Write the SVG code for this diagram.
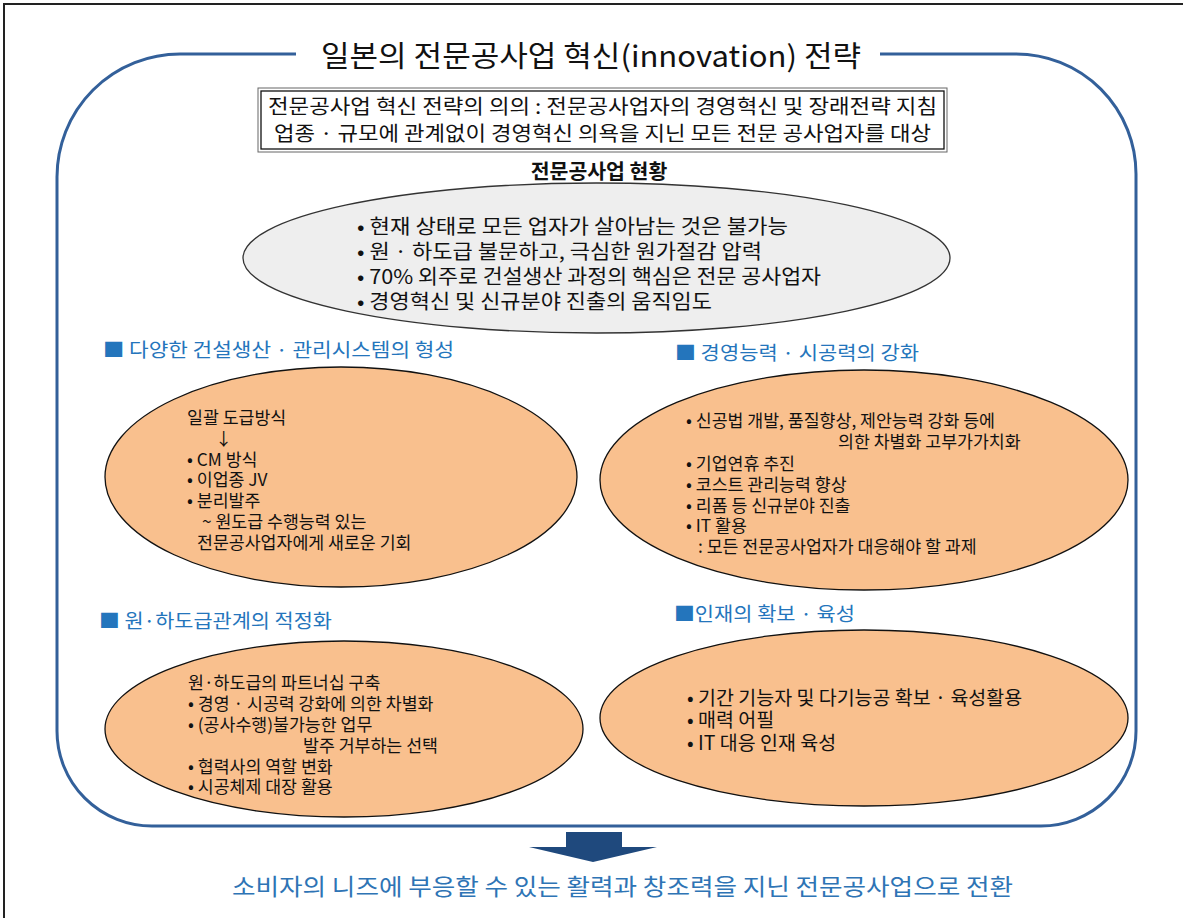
<svg xmlns="http://www.w3.org/2000/svg" width="1183" height="918" viewBox="0 0 1183 918">
<style>
.k{font-family:"Noto Sans CJK KR","Noto Sans",sans-serif;fill:#111;}
.t20{font-size:20px;}
.b{font-size:17.3px;}
.b2{font-size:19.5px;}
.h{font-size:19px;fill:#2475BC;}
.ell{fill:#F9C08E;stroke:#111;stroke-width:1.3;}
</style>
<rect x="0" y="0" width="1183" height="918" fill="#fff"/>
<g id="page-border" fill="none" stroke="#222" stroke-width="2">
<path d="M4 918 V4 H1183"/>
</g>
<g id="frame">
<path d="M180 54 H1016 A120 120 0 0 1 1136 174 V731 A95 95 0 0 1 1041 826 H152 A95 95 0 0 1 57 731 V177 A123 123 0 0 1 180 54 Z" fill="none" stroke="#33609A" stroke-width="3"/>
<rect x="296" y="36" width="584" height="38" fill="#fff"/>
<text class="k" x="321" y="67" font-size="29" textLength="540" lengthAdjust="spacingAndGlyphs">일본의 전문공사업 혁신(innovation) 전략</text>
</g>
<g id="purpose-box">
<rect x="258" y="88" width="689" height="64" fill="#fff" stroke="#666" stroke-width="1"/>
<rect x="261" y="91" width="683" height="58" fill="none" stroke="#111" stroke-width="1.3"/>
<text class="k t20" x="268" y="114" textLength="669" lengthAdjust="spacingAndGlyphs">전문공사업 혁신 전략의 의의 : 전문공사업자의 경영혁신 및 장래전략 지침</text>
<text class="k t20" x="274" y="141" textLength="657" lengthAdjust="spacingAndGlyphs">업종 · 규모에 관계없이 경영혁신 의욕을 지닌 모든 전문 공사업자를 대상</text>
</g>
<g id="status">
<text class="k" x="599" y="179" font-size="20.5" font-weight="bold" text-anchor="middle">전문공사업 현황</text>
<ellipse cx="596.5" cy="258" rx="353.5" ry="75" fill="#EEEEEE" stroke="#333" stroke-width="1.3"/>
<text class="k t20" x="357" y="234" textLength="431" lengthAdjust="spacingAndGlyphs">• 현재 상태로 모든 업자가 살아남는 것은 불가능</text>
<text class="k t20" x="357" y="259" textLength="405" lengthAdjust="spacingAndGlyphs">• 원 · 하도급 불문하고, 극심한 원가절감 압력</text>
<text class="k t20" x="357" y="284" textLength="464" lengthAdjust="spacingAndGlyphs">• 70% 외주로 건설생산 과정의 핵심은 전문 공사업자</text>
<text class="k t20" x="357" y="309" textLength="355" lengthAdjust="spacingAndGlyphs">• 경영혁신 및 신규분야 진출의 움직임도</text>
</g>
<g id="production-system">
<text class="k h" x="103" y="357" textLength="351" lengthAdjust="spacingAndGlyphs">■ 다양한 건설생산 · 관리시스템의 형성</text>
<ellipse class="ell" cx="341" cy="477" rx="236" ry="110"/>
<text class="k b" x="187" y="424">일괄 도급방식</text>
<text class="k b" x="215" y="445">↓</text>
<text class="k b" x="187" y="466">• CM 방식</text>
<text class="k b" x="187" y="486">• 이업종 JV</text>
<text class="k b" x="187" y="507">• 분리발주</text>
<text class="k b" x="202" y="528">~ 원도급 수행능력 있는</text>
<text class="k b" x="197" y="549">전문공사업자에게 새로운 기회</text>
</g>
<g id="management">
<text class="k h" x="675" y="360" textLength="244" lengthAdjust="spacingAndGlyphs">■ 경영능력 · 시공력의 강화</text>
<ellipse class="ell" cx="864" cy="480" rx="264" ry="110"/>
<text class="k b" x="686" y="427">• 신공법 개발, 품질향상, 제안능력 강화 등에</text>
<text class="k b" x="838" y="448">의한 차별화 고부가가치화</text>
<text class="k b" x="686" y="470">• 기업연휴 추진</text>
<text class="k b" x="686" y="491">• 코스트 관리능력 향상</text>
<text class="k b" x="686" y="512">• 리폼 등 신규분야 진출</text>
<text class="k b" x="686" y="532">• IT 활용</text>
<text class="k b" x="698" y="553">: 모든 전문공사업자가 대응해야 할 과제</text>
</g>
<g id="subcontract">
<text class="k h" x="99" y="628" textLength="233" lengthAdjust="spacingAndGlyphs">■ 원·하도급관계의 적정화</text>
<ellipse class="ell" cx="344" cy="729" rx="239" ry="88"/>
<text class="k b" x="188" y="689">원·하도급의 파트너십 구축</text>
<text class="k b" x="188" y="710">• 경영 · 시공력 강화에 의한 차별화</text>
<text class="k b" x="188" y="731">• (공사수행)불가능한 업무</text>
<text class="k b" x="303" y="752">발주 거부하는 선택</text>
<text class="k b" x="188" y="773">• 협력사의 역할 변화</text>
<text class="k b" x="188" y="793">• 시공체제 대장 활용</text>
</g>
<g id="talent">
<text class="k h" x="674" y="621" textLength="181" lengthAdjust="spacingAndGlyphs">■인재의 확보 · 육성</text>
<ellipse class="ell" cx="864" cy="718" rx="264" ry="88"/>
<text class="k b2" x="687" y="705">• 기간 기능자 및 다기능공 확보 · 육성활용</text>
<text class="k b2" x="687" y="727">• 매력 어필</text>
<text class="k b2" x="687" y="750">• IT 대응 인재 육성</text>
</g>
<g id="connectors">
<path d="M566 832 H622 V847 H657 L593 862 L529 847 H566 Z" fill="#1F497D"/>
</g>
<g id="conclusion">
<text class="k" x="232" y="895" font-size="23" style="fill:#2E74B5" textLength="781" lengthAdjust="spacingAndGlyphs">소비자의 니즈에 부응할 수 있는 활력과 창조력을 지닌 전문공사업으로 전환</text>
</g>
</svg>
